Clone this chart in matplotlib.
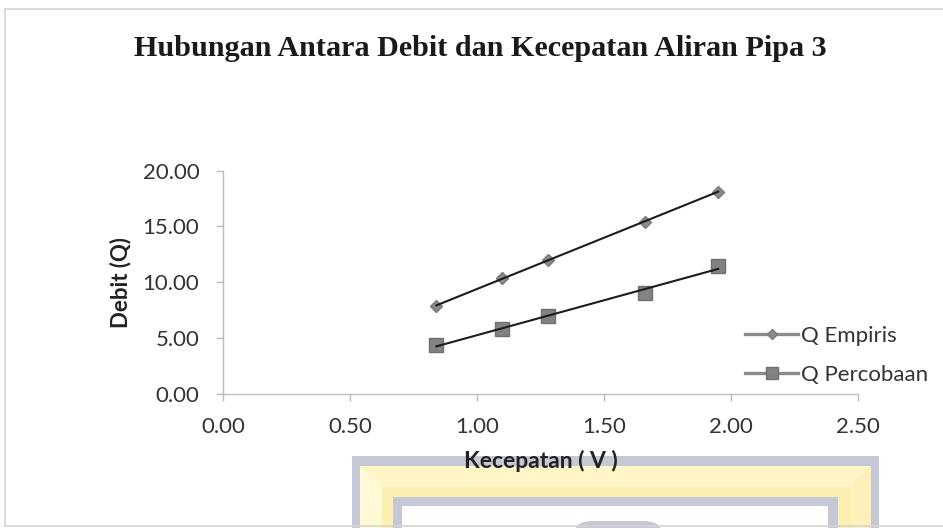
import numpy as np
import matplotlib
matplotlib.use("Agg")
import matplotlib.pyplot as plt
from matplotlib.lines import Line2D
from matplotlib.patches import Rectangle, Polygon, FancyBboxPatch

# Flow velocity (V) and discharge (Q) for pipe 3
kecepatan = [0.84, 1.10, 1.28, 1.66, 1.95]
q_empiris = [7.84, 10.38, 11.98, 15.43, 18.11]
q_percobaan = [4.39, 5.82, 6.92, 9.04, 11.47]

x_ticks = [0.0, 0.5, 1.0, 1.5, 2.0, 2.5]
y_ticks = [0.0, 5.0, 10.0, 15.0, 20.0]

W, H = 943, 528
fig = plt.figure(figsize=(W / 100, H / 100), dpi=100)
fig.patch.set_facecolor("white")

TICK_FONT = "Lato"


def fx(px):
    return px / W


def fy(py):
    return 1 - py / H


# chart-area border (left, top, bottom edges)
frame = dict(transform=fig.transFigure, color="#d4d4d4", lw=1.2, zorder=-0.5)
fig.add_artist(Line2D([fx(5), fx(5)], [fy(9), fy(526)], **frame))
fig.add_artist(Line2D([fx(5), fx(W)], [fy(9), fy(9)], **frame))
fig.add_artist(Line2D([fx(5), fx(W)], [fy(526), fy(526)], **frame))

# emblem at the bottom of the page
def rect(x0, y0, x1, y1, color):
    r = Rectangle((fx(x0), fy(y1)), fx(x1) - fx(x0), fy(y0) - fy(y1),
                  transform=fig.transFigure, facecolor=color, edgecolor="none", zorder=-1)
    fig.add_artist(r)


def poly(pts, color):
    p = Polygon([(fx(a), fy(b)) for a, b in pts], closed=True, transform=fig.transFigure,
                facecolor=color, edgecolor="none", zorder=-1)
    fig.add_artist(p)


rect(352, 456, 879, 530, "#c6c8d5")
rect(360, 466, 871, 530, "#fcefb2")
poly([(360, 466), (871, 466), (851, 487), (382, 487)], "#fff5c6")
poly([(360, 466), (382, 487), (382, 530), (360, 530)], "#fffad6")
poly([(871, 466), (871, 530), (851, 530), (851, 487)], "#fdf0b8")
rect(393, 497, 838, 530, "#c6c8d5")
rect(402, 506, 828, 530, "white")
dome = FancyBboxPatch((fx(575), fy(540)), fx(661) - fx(575), fy(521) - fy(540),
                      boxstyle="round,pad=0,rounding_size=0.02", transform=fig.transFigure,
                      facecolor="#c6c8d5", edgecolor="none", zorder=-1)
fig.add_artist(dome)

# plot area
ax = fig.add_axes([fx(223), fy(393.5), fx(858) - fx(223), fy(170.7) - fy(393.5)])
ax.set_facecolor("none")
ax.set_xlim(0, 2.5)
ax.set_ylim(0, 20)

marker_gray = "#8a8a8a"
ax.plot(kecepatan, q_empiris, linestyle="none", marker="D", markersize=6,
        markerfacecolor=marker_gray, markeredgecolor="#7a7a7a", zorder=3)
ax.plot(kecepatan, q_percobaan, linestyle="none", marker="s", markersize=9.5,
        markerfacecolor="#828282", markeredgecolor="#707070", zorder=3)

# linear trendlines over the measured range
xs = np.array([min(kecepatan), max(kecepatan)])
for series in (q_empiris, q_percobaan):
    k, b = np.polyfit(kecepatan, series, 1)
    ax.plot(xs, k * xs + b, color="#1c1c1c", lw=1.5, zorder=4)

ax.set_xticks(x_ticks)
ax.set_yticks(y_ticks)
ax.set_xticklabels([f"{v:.2f}" for v in x_ticks])
ax.set_yticklabels([f"{v:.2f}" for v in y_ticks])
ax.tick_params(axis="both", direction="out", length=5, width=1, color="#bcbcbc",
               labelsize=16, labelcolor="#333333", pad=12)
for lab in ax.get_xticklabels() + ax.get_yticklabels():
    lab.set_fontfamily(TICK_FONT)

for side in ("top", "right"):
    ax.spines[side].set_visible(False)
for side in ("left", "bottom"):
    ax.spines[side].set_color("#bcbcbc")
    ax.spines[side].set_linewidth(1)

ax.set_xlabel("Kecepatan ( V )", fontfamily=TICK_FONT, fontweight="bold",
              fontsize=16.5, color="#222222", labelpad=9)
ax.set_ylabel("Debit (Q)", fontfamily=TICK_FONT, fontweight="bold",
              fontsize=16, color="#222222", labelpad=8)

fig.text(fx(480), fy(49), "Hubungan Antara Debit dan Kecepatan Aliran Pipa 3",
         ha="center", va="center", fontfamily="Liberation Serif", fontweight="bold",
         fontsize=21.7, color="#1a1a1a")

handles = [
    Line2D([], [], color="#8c8c8c", lw=2.4, marker="D", markersize=5,
           markerfacecolor=marker_gray, markeredgecolor="#7a7a7a"),
    Line2D([], [], color="#8c8c8c", lw=2.4, marker="s", markersize=8,
           markerfacecolor="#828282", markeredgecolor="#707070"),
]
leg = ax.legend(handles, ["Q Empiris", "Q Percobaan"], loc="upper left",
                bbox_to_anchor=(fx(745), fy(326)), bbox_transform=fig.transFigure,
                frameon=False, borderpad=0, borderaxespad=0, handlelength=2.4,
                handletextpad=0.1, labelspacing=0.85,
                prop={"family": TICK_FONT, "size": 16})
for t in leg.get_texts():
    t.set_color("#333333")

fig.savefig("out.png", dpi=100, facecolor="white")
